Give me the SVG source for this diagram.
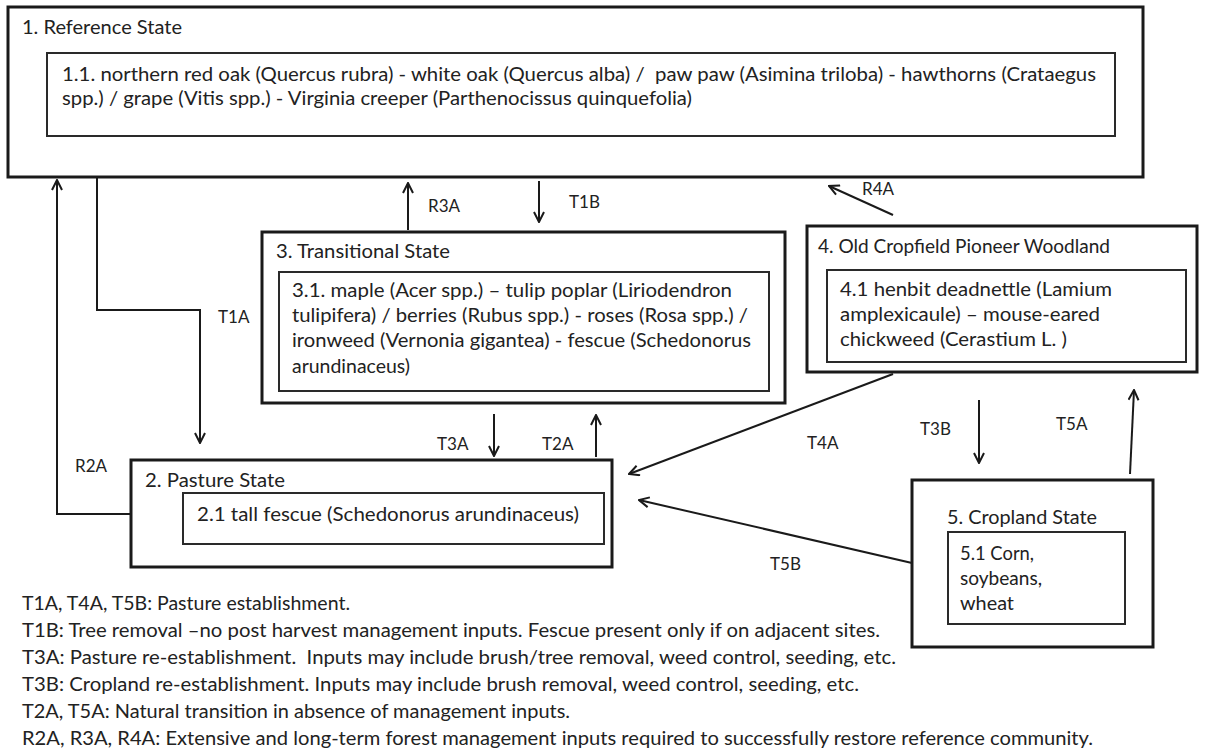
<svg xmlns="http://www.w3.org/2000/svg" width="1209" height="751" viewBox="0 0 1209 751">
<defs>
<marker id="ah" viewBox="0 0 12 12" refX="11" refY="6" markerWidth="12" markerHeight="12" markerUnits="userSpaceOnUse" orient="auto">
<path d="M1,1 L11,6 L1,11" fill="none" stroke="#1a1a1a" stroke-width="2"/>
</marker>
<style>
.outer{fill:#fff;stroke:#1a1a1a;stroke-width:3}
.inner{fill:#fff;stroke:#2a2a2a;stroke-width:2}
.t{font-family:Lato,"Open Sans","Liberation Sans",sans-serif;font-size:18.5px;fill:#222;white-space:pre}
.lab{font-family:Lato,"Open Sans","Liberation Sans",sans-serif;font-size:17px;fill:#222}
.c{fill:none;stroke:#1a1a1a;stroke-width:2}
</style>
</defs>
<rect width="1209" height="751" fill="#fff"/>

<g id="node1">
<rect class="outer" x="8" y="7" width="1135" height="170"/>
<text class="t" x="22" y="34" textLength="160" lengthAdjust="spacingAndGlyphs">1. Reference State</text>
<rect class="inner" x="47" y="53" width="1068" height="83"/>
<text class="t" x="62" y="81" textLength="1034" lengthAdjust="spacingAndGlyphs" xml:space="preserve">1.1. northern red oak (Quercus rubra) - white oak (Quercus alba) /  paw paw (Asimina triloba) - hawthorns (Crataegus</text>
<text class="t" x="62" y="105" textLength="630" lengthAdjust="spacingAndGlyphs">spp.) / grape (Vitis spp.) - Virginia creeper (Parthenocissus quinquefolia)</text>
</g>

<g id="node3">
<rect class="outer" x="262" y="232" width="523" height="171"/>
<text class="t" x="276" y="258" textLength="174" lengthAdjust="spacingAndGlyphs">3. Transitional State</text>
<rect class="inner" x="279" y="272" width="490" height="119"/>
<text class="t" x="292" y="297" textLength="440" lengthAdjust="spacingAndGlyphs">3.1. maple (Acer spp.) – tulip poplar (Liriodendron</text>
<text class="t" x="292" y="322" textLength="456" lengthAdjust="spacingAndGlyphs">tulipifera) / berries (Rubus spp.) - roses (Rosa spp.) /</text>
<text class="t" x="292" y="347" textLength="459" lengthAdjust="spacingAndGlyphs">ironweed (Vernonia gigantea) - fescue (Schedonorus</text>
<text class="t" x="292" y="373" textLength="118" lengthAdjust="spacingAndGlyphs">arundinaceus)</text>
</g>

<g id="node4">
<rect class="outer" x="807" y="226" width="390" height="146"/>
<text class="t" x="818" y="253" textLength="292" lengthAdjust="spacingAndGlyphs">4. Old Cropfield Pioneer Woodland</text>
<rect class="inner" x="827" y="270" width="359" height="92"/>
<text class="t" x="840" y="296" textLength="272" lengthAdjust="spacingAndGlyphs">4.1 henbit deadnettle (Lamium</text>
<text class="t" x="840" y="321" textLength="260" lengthAdjust="spacingAndGlyphs">amplexicaule) – mouse-eared</text>
<text class="t" x="840" y="346" textLength="227" lengthAdjust="spacingAndGlyphs">chickweed (Cerastium L. )</text>
</g>

<g id="node2">
<rect class="outer" x="131" y="460" width="481" height="107"/>
<text class="t" x="145" y="487" textLength="140" lengthAdjust="spacingAndGlyphs">2. Pasture State</text>
<rect class="inner" x="183" y="493" width="421" height="51"/>
<text class="t" x="197" y="521" textLength="382" lengthAdjust="spacingAndGlyphs">2.1 tall fescue (Schedonorus arundinaceus)</text>
</g>

<g id="node5">
<rect class="outer" x="912" y="480" width="241" height="167"/>
<text class="t" x="947" y="524" textLength="150" lengthAdjust="spacingAndGlyphs">5. Cropland State</text>
<rect class="inner" x="948" y="532" width="177" height="92"/>
<text class="t" x="960" y="560" textLength="74" lengthAdjust="spacingAndGlyphs">5.1 Corn,</text>
<text class="t" x="960" y="585" textLength="82" lengthAdjust="spacingAndGlyphs">soybeans,</text>
<text class="t" x="960" y="610" textLength="54" lengthAdjust="spacingAndGlyphs">wheat</text>
</g>

<g id="connectors">
<path class="c" d="M131,514 H57 V180" marker-end="url(#ah)"/>
<path class="c" d="M97,177 V310 H200 V443" marker-end="url(#ah)"/>
<path class="c" d="M408,230 V183" marker-end="url(#ah)"/>
<path class="c" d="M539,181 V222" marker-end="url(#ah)"/>
<path class="c" d="M893,215 L829,186" marker-end="url(#ah)"/>
<path class="c" d="M494,414 V456" marker-end="url(#ah)"/>
<path class="c" d="M596,457 V415" marker-end="url(#ah)"/>
<path class="c" d="M893,374 L629,474" marker-end="url(#ah)"/>
<path class="c" d="M912,563 L639,500" marker-end="url(#ah)"/>
<path class="c" d="M979,400 V463" marker-end="url(#ah)"/>
<path class="c" d="M1130,474 L1134,390" marker-end="url(#ah)"/>
<text class="lab" x="75" y="472">R2A</text>
<text class="lab" x="218" y="323">T1A</text>
<text class="lab" x="428" y="212">R3A</text>
<text class="lab" x="569" y="208">T1B</text>
<text class="lab" x="862" y="195">R4A</text>
<text class="lab" x="437" y="450">T3A</text>
<text class="lab" x="542" y="450">T2A</text>
<text class="lab" x="807" y="449">T4A</text>
<text class="lab" x="770" y="570">T5B</text>
<text class="lab" x="920" y="435">T3B</text>
<text class="lab" x="1056" y="430">T5A</text>
</g>

<g id="legend">
<text class="t" x="22" y="610" textLength="328" lengthAdjust="spacingAndGlyphs">T1A, T4A, T5B: Pasture establishment.</text>
<text class="t" x="22" y="637" textLength="858" lengthAdjust="spacingAndGlyphs">T1B: Tree removal –no post harvest management inputs. Fescue present only if on adjacent sites.</text>
<text class="t" x="22" y="664" textLength="874" lengthAdjust="spacingAndGlyphs" xml:space="preserve">T3A: Pasture re-establishment.  Inputs may include brush/tree removal, weed control, seeding, etc.</text>
<text class="t" x="22" y="691" textLength="837" lengthAdjust="spacingAndGlyphs">T3B: Cropland re-establishment. Inputs may include brush removal, weed control, seeding, etc.</text>
<text class="t" x="22" y="718" textLength="548" lengthAdjust="spacingAndGlyphs">T2A, T5A: Natural transition in absence of management inputs.</text>
<text class="t" x="22" y="745" textLength="1071" lengthAdjust="spacingAndGlyphs">R2A, R3A, R4A: Extensive and long-term forest management inputs required to successfully restore reference community.</text>
</g>
</svg>
